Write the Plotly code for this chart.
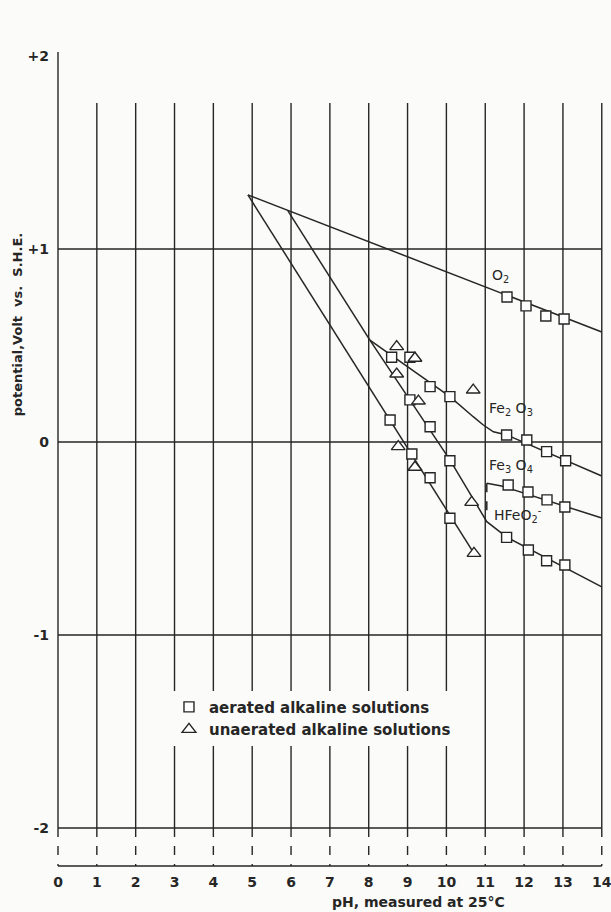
import plotly.graph_objects as go

# ---------------- data ----------------
ph_ticks = list(range(0, 15))
e_ticks = [2, 1, 0, -1, -2]
e_tick_labels = ["+2", "+1", "0", "-1", "-2"]
e_grid = [1, 0, -1, -2]

# boundary lines (pH, potential V vs S.H.E.)
o2_ph = [4.89, 14.0]
o2_e = [1.28, 0.57]

low_ph = [4.89, 10.71]
low_e = [1.28, -0.577]

mid_ph = [5.92, 8.03]
mid_e = [1.197, 0.528]

fe2o3_ph = [8.03, 10.09, 10.69, 10.95, 11.21, 11.56, 14.0]
fe2o3_e = [0.528, 0.235, 0.131, 0.088, 0.053, 0.036, -0.176]

hfeo2_ph = [8.03, 10.09, 11.04, 11.42, 11.56, 14.0]
hfeo2_e = [0.528, -0.093, -0.413, -0.473, -0.494, -0.751]

fe3o4_ph = [11.04, 11.42, 14.0]
fe3o4_e = [-0.214, -0.228, -0.394]

dash_ph = [11.04, 11.04]
dash_e = [-0.214, -0.40]

# measured points
aer_ph = [11.56, 12.05, 12.56, 13.03,
          8.59, 9.06, 9.58, 10.09, 11.55, 12.07, 12.58, 13.07,
          9.06, 9.58, 10.09,
          8.55, 9.11, 9.58, 10.09,
          11.59, 12.10, 12.59, 13.05,
          11.55, 12.11, 12.58, 13.05]
aer_e = [0.751, 0.705, 0.653, 0.637,
         0.439, 0.439, 0.287, 0.235, 0.036, 0.010, -0.050, -0.097,
         0.218, 0.079, -0.097,
         0.114, -0.062, -0.185, -0.395,
         -0.223, -0.259, -0.300, -0.337,
         -0.494, -0.560, -0.615, -0.637]

una_ph = [8.72, 9.19, 8.72, 9.28, 10.69, 10.65, 8.76, 9.19, 10.71]
una_e = [0.494, 0.434, 0.352, 0.212, 0.269, -0.313, -0.024, -0.131, -0.577]

# curve labels
lab_text = ["O<sub>2</sub>", "Fe<sub>2</sub> O<sub>3</sub>", "Fe<sub>3</sub> O<sub>4</sub>", "HFeO<sub>2</sub><sup>-</sup>"]
lab_ph = [11.12, 11.04, 11.04, 11.17]
lab_e = [0.86, 0.17, -0.125, -0.38]

# ---------------- figure ----------------
INK = "#262626"
BG = "#fbfbf9"
FONT = "DejaVu Sans"

fig = go.Figure()

line_style = dict(color=INK, width=1.5)
for xs, ys in [(o2_ph, o2_e), (low_ph, low_e), (mid_ph, mid_e),
               (fe2o3_ph, fe2o3_e), (hfeo2_ph, hfeo2_e), (fe3o4_ph, fe3o4_e)]:
    fig.add_trace(go.Scatter(x=xs, y=ys, mode="lines", line=line_style,
                             showlegend=False, hoverinfo="skip"))
fig.add_trace(go.Scatter(x=dash_ph, y=dash_e, mode="lines",
                         line=dict(color=INK, width=1.5, dash="dash"),
                         showlegend=False, hoverinfo="skip"))

fig.add_trace(go.Scatter(
    x=aer_ph, y=aer_e, mode="markers", name="aerated alkaline solutions",
    legendgroup="a",
    marker=dict(symbol="square", size=10, color="white",
                line=dict(color=INK, width=1.4))))
fig.add_trace(go.Scatter(
    x=una_ph, y=una_e, mode="markers", name="unaerated alkaline solutions",
    legendgroup="b",
    marker=dict(symbol="triangle-up", size=12, color="white",
                line=dict(color=INK, width=1.4))))

# grid / frame drawn from the tick arrays
shapes = []
TOP0, TOPG, BOT, BASE = 2.02, 1.756, -2.0, -2.197
for p in ph_ticks:
    shapes.append(dict(type="line", x0=p, x1=p, y0=(TOP0 if p == 0 else TOPG), y1=BOT,
                       line=dict(color=INK, width=1.4), layer="below"))
    shapes.append(dict(type="line", x0=p, x1=p, y0=BOT, y1=BASE,
                       line=dict(color=INK, width=1.4, dash="dash"), layer="below"))
for e in e_grid:
    shapes.append(dict(type="line", x0=ph_ticks[0], x1=ph_ticks[-1], y0=e, y1=e,
                       line=dict(color=INK, width=1.4), layer="below"))
shapes.append(dict(type="line", x0=ph_ticks[0], x1=ph_ticks[-1], y0=BASE, y1=BASE,
                   line=dict(color=INK, width=1.4), layer="below"))

annotations = []
for t, x, y in zip(lab_text, lab_ph, lab_e):
    annotations.append(dict(x=x, y=y, text=t, showarrow=False, xanchor="left",
                            yanchor="middle", font=dict(family=FONT, size=14, color=INK)))
annotations.append(dict(x=7, y=0, xref="x", yref="paper", yshift=-30,
                        text="<b>pH, measured at 25°C</b>", showarrow=False,
                        xanchor="left", yanchor="middle",
                        font=dict(family=FONT, size=14, color=INK)))
annotations.append(dict(x=0, y=0.61, xref="paper", yref="y", xshift=-33,
                        text="<b>potential,Volt  vs.  S.H.E.</b>", textangle=-90,
                        showarrow=False, xanchor="center", yanchor="middle",
                        font=dict(family=FONT, size=13, color=INK)))

fig.update_layout(
    width=611, height=912,
    margin=dict(l=50, r=5, t=0, b=40, autoexpand=False),
    paper_bgcolor=BG, plot_bgcolor=BG,
    shapes=shapes, annotations=annotations,
    showlegend=True,
    legend=dict(x=0.214, y=0.208, xanchor="left", yanchor="top",
                bgcolor=BG, borderwidth=0, tracegroupgap=0,
                font=dict(family=FONT, size=15, color=INK, weight="bold")),
    xaxis=dict(range=[-0.206, 14.109], showgrid=False, zeroline=False, automargin=False,
               showline=False, tickvals=ph_ticks, ticktext=[str(v) for v in ph_ticks],
               ticklabeloverflow="allow",
               ticks="", tickfont=dict(family=FONT, size=14, color=INK, weight="bold")),
    yaxis=dict(range=[-2.228, 2.29], showgrid=False, zeroline=False, showline=False,
               automargin=False, tickvals=e_ticks, ticktext=e_tick_labels, ticks="",
               ticklabeloverflow="allow",
               tickfont=dict(family=FONT, size=14, color=INK, weight="bold")),
)

fig.write_html("out.html", config={"displayModeBar": False},
               post_script="document.body.style.margin='0';document.body.style.overflow='hidden';document.body.style.background='" + BG + "';")
